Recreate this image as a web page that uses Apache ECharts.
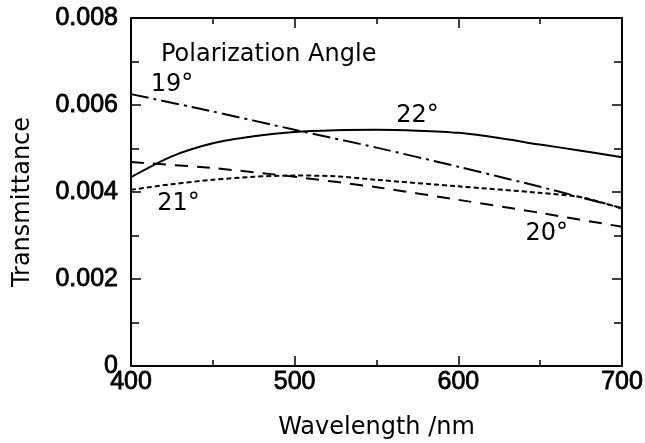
<!DOCTYPE html>
<html>
<head>
<meta charset="utf-8">
<script src="https://cdn.jsdelivr.net/npm/echarts@6/dist/echarts.min.js"></script>
<style>
  html, body { margin: 0; padding: 0; background: #fff; }
  #chart { width: 645px; height: 443px; }
</style>
</head>
<body>
<div id="chart"></div>
<script>
// wavelength (nm)
const wl19 = [400, 450, 500, 550, 600, 650, 700];
const t19 = [0.00625, 0.00585, 0.00543, 0.00502, 0.00458, 0.00412, 0.00363];

const wl20 = [400, 450, 500, 550, 600, 650, 700];
const t20 = [0.00469, 0.00455, 0.00435, 0.00411, 0.00382, 0.00352, 0.0032];

const wl21 = [400, 425, 450, 475, 500, 525, 550, 600, 650, 675, 700];
const t21 = [0.00405, 0.00418, 0.00428, 0.00435, 0.00438, 0.00436, 0.00428, 0.00413, 0.00398, 0.00388, 0.00362];

const wl22 = [400, 425, 450, 475, 500, 525, 550, 575, 600, 625, 650, 675, 700];
const t22 = [0.00434, 0.00482, 0.00512, 0.00528, 0.00538, 0.00542, 0.00543, 0.00541, 0.00536, 0.00524, 0.00509, 0.00495, 0.0048];

// curve labels, placed in data space
const curveNames = ['19°', '20°', '21°', '22°'];
const labelWl = [425, 654, 429, 575];
const labelT = [0.00646, 0.00303, 0.00372, 0.00575];

const xTicks = [400, 500, 600, 700];
const yTicks = [0, 0.002, 0.004, 0.006, 0.008];

const pairs = (xs, ys) => xs.map((x, i) => [x, ys[i]]);

const chart = echarts.init(document.getElementById('chart'));

// scanned figure has heavy digits: thin outline thickens regular weight
const tickFont = {
  fontFamily: 'Liberation Sans', fontSize: 25, color: '#000',
  textBorderColor: '#000', textBorderWidth: 0.8
};
const nameFont = { fontFamily: 'DejaVu Sans', fontSize: 24, color: '#000' };
const axisLine = { show: true, onZero: false, lineStyle: { color: '#000', width: 2 } };
const tick = { show: true, inside: true, length: 10, lineStyle: { color: '#000', width: 1.5 } };

const makeSeries = (i, xs, ys, dash, smooth) => ({
  name: curveNames[i],
  type: 'line',
  data: pairs(xs, ys),
  showSymbol: false,
  smooth: smooth,
  lineStyle: { color: '#000', width: 2, type: dash },
  markPoint: {
    symbol: 'circle',
    symbolSize: 0,
    data: [{ coord: [labelWl[i], labelT[i]] }],
    label: {
      show: true,
      position: 'inside',
      formatter: curveNames[i],
      fontFamily: 'DejaVu Sans',
      fontSize: 24,
      color: '#000'
    }
  },
  animation: false
});

chart.setOption({
  animation: false,
  title: {
    text: 'Polarization Angle',
    left: 156,
    top: 38,
    textStyle: { fontFamily: 'DejaVu Sans', fontSize: 24, fontWeight: 'normal', color: '#000' }
  },
  grid: { left: 131, right: 23, top: 18, bottom: 77, outerBoundsMode: 'none' },
  xAxis: [
    {
      type: 'value',
      min: xTicks[0],
      max: xTicks[xTicks.length - 1],
      interval: 100,
      name: 'Wavelength /nm',
      nameLocation: 'middle',
      nameGap: 50,
      nameTextStyle: nameFont,
      axisLine: axisLine,
      axisTick: tick,
      minorTick: { show: true, splitNumber: 2, length: 6, lineStyle: { color: '#000', width: 1.5 } },
      axisLabel: Object.assign({ margin: 4 }, tickFont),
      splitLine: { show: false }
    },
    {
      type: 'value',
      position: 'top',
      min: xTicks[0],
      max: xTicks[xTicks.length - 1],
      interval: 100,
      axisLine: axisLine,
      axisTick: tick,
      minorTick: { show: true, splitNumber: 2, length: 6, lineStyle: { color: '#000', width: 1.5 } },
      axisLabel: { show: false },
      splitLine: { show: false }
    }
  ],
  yAxis: [
    {
      type: 'value',
      min: yTicks[0],
      max: yTicks[yTicks.length - 1],
      interval: 0.002,
      name: 'Transmittance',
      nameLocation: 'middle',
      nameGap: 96,
      nameTextStyle: Object.assign({ padding: [0, 20, 0, 0] }, nameFont),
      axisLine: axisLine,
      axisTick: tick,
      minorTick: { show: true, splitNumber: 2, length: 8, lineStyle: { color: '#000', width: 1.5 } },
      axisLabel: Object.assign({
        margin: 13,
        formatter: v => (v === 0 ? '0' : v.toFixed(3))
      }, tickFont),
      splitLine: { show: false }
    },
    {
      type: 'value',
      position: 'right',
      min: yTicks[0],
      max: yTicks[yTicks.length - 1],
      interval: 0.002,
      axisLine: axisLine,
      axisTick: tick,
      minorTick: { show: true, splitNumber: 2, length: 8, lineStyle: { color: '#000', width: 1.5 } },
      axisLabel: { show: false },
      splitLine: { show: false }
    }
  ],
  series: [
    makeSeries(0, wl19, t19, [18, 5, 3, 5], 0.2),
    makeSeries(1, wl20, t20, [13, 9], 0.2),
    makeSeries(2, wl21, t21, [5, 3], 0.3),
    makeSeries(3, wl22, t22, 'solid', 0.3)
  ]
});
</script>
</body>
</html>
